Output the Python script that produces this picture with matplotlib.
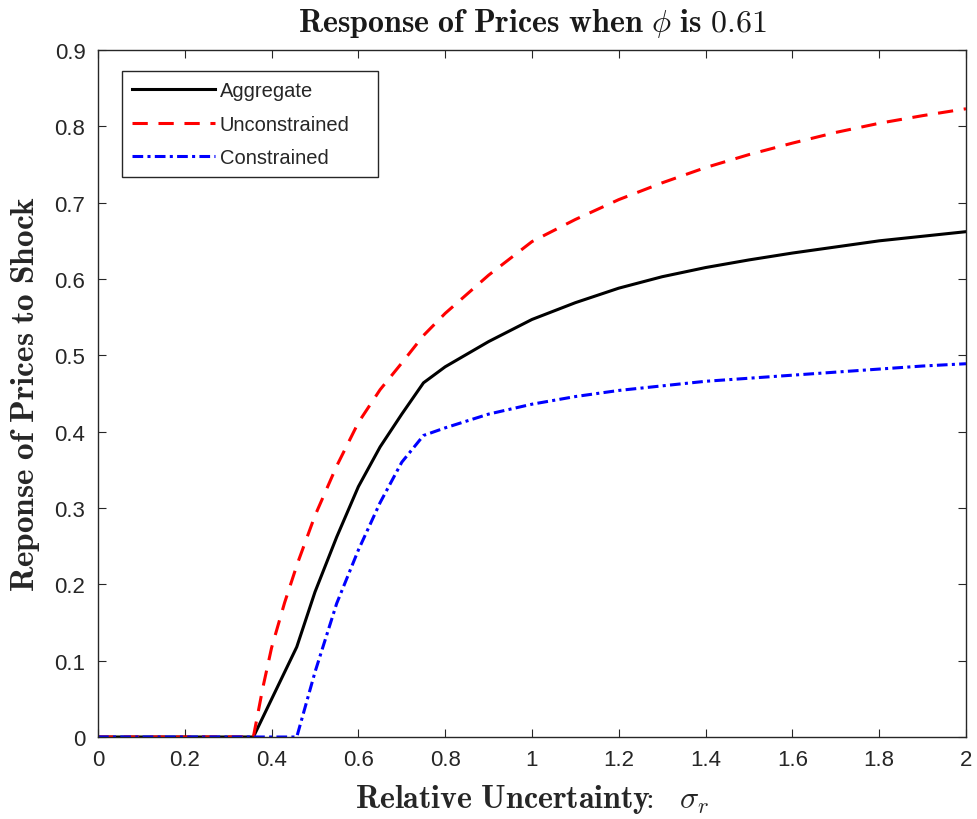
import numpy as np
import matplotlib
matplotlib.use('Agg')
import matplotlib.pyplot as plt

# Relative uncertainty (x) and price responses
x_agg = [0, 0.358, 0.458, 0.50, 0.55, 0.60, 0.65, 0.70, 0.75, 0.80, 0.90, 1.0,
         1.1, 1.2, 1.3, 1.4, 1.5, 1.6, 1.7, 1.8, 1.9, 2.0]
y_agg = [0, 0, 0.118, 0.19, 0.262, 0.328, 0.38, 0.423, 0.464, 0.485, 0.518, 0.547,
         0.569, 0.588, 0.603, 0.615, 0.625, 0.634, 0.642, 0.650, 0.656, 0.662]

x_unc = [0, 0.358, 0.38, 0.40, 0.43, 0.46, 0.50, 0.55, 0.60, 0.65, 0.70, 0.75, 0.80,
         0.90, 1.0, 1.1, 1.2, 1.3, 1.4, 1.5, 1.6, 1.7, 1.8, 1.9, 2.0]
y_unc = [0, 0, 0.065, 0.117, 0.176, 0.228, 0.29, 0.355, 0.412, 0.455, 0.49, 0.526, 0.555,
         0.605, 0.649, 0.678, 0.704, 0.726, 0.746, 0.763, 0.778, 0.792, 0.804, 0.814, 0.823]

x_con = [0, 0.458, 0.50, 0.55, 0.60, 0.65, 0.70, 0.75, 0.80, 0.90, 1.0,
         1.1, 1.2, 1.3, 1.4, 1.5, 1.6, 1.7, 1.8, 1.9, 2.0]
y_con = [0, 0, 0.085, 0.175, 0.245, 0.307, 0.36, 0.395, 0.405, 0.423, 0.436,
         0.446, 0.454, 0.460, 0.466, 0.470, 0.474, 0.478, 0.482, 0.486, 0.489]

xticks = np.arange(0, 2.01, 0.2)
yticks = np.arange(0, 0.91, 0.1)
xticklabels = ['0', '0.2', '0.4', '0.6', '0.8', '1', '1.2', '1.4', '1.6', '1.8', '2']
yticklabels = ['0', '0.1', '0.2', '0.3', '0.4', '0.5', '0.6', '0.7', '0.8', '0.9']

plt.rcParams['font.family'] = 'Liberation Sans'
plt.rcParams['mathtext.fontset'] = 'cm'

fig = plt.figure(figsize=(9.78, 8.2), dpi=100)
fig.set_facecolor('w')
ax = fig.add_axes([0.1002, 0.1, 0.8875, 0.8378])

ax.plot(x_agg, y_agg, '-', color='k', lw=2.2, label='Aggregate')
ax.plot(x_unc, y_unc, '--', color='r', lw=2.2, dashes=(5, 3.5), label='Unconstrained')
ax.plot(x_con, y_con, '-.', color='b', lw=2.2, dashes=(3.5, 1.4, 1.0, 1.4), label='Constrained')

ax.set_xlim(0, 2)
ax.set_ylim(0, 0.9)
ax.set_xticks(xticks)
ax.set_yticks(yticks)
ax.set_xticklabels(xticklabels)
ax.set_yticklabels(yticklabels)
ax.tick_params(direction='in', top=True, right=True, length=6, width=0.8,
               colors='0.15', labelsize=16)
ax.tick_params(axis='x', pad=9)
ax.tick_params(axis='y', pad=9)
for sp in ax.spines.values():
    sp.set_color('0.15')
    sp.set_linewidth(1.0)

ax.set_title(r'$\mathbf{Response\ of\ Prices\ when}\ \phi\ \mathbf{is\ 0.61}$',
             fontsize=23, color='0.1', y=1.016, va='baseline')
ax.set_xlabel(r'$\mathbf{Relative\ Uncertainty}\!\!\mathbf{:}\ \ \sigma_r$', fontsize=23, color='0.15', va='center')
ax.set_ylabel(r'$\mathbf{Reponse\ of\ Prices\ to\ Shock}$', fontsize=24, color='0.15', va='center')
ax.xaxis.set_label_coords(0.5, -0.09)
ax.yaxis.set_label_coords(-0.084, 0.5)

leg = ax.legend(loc='upper left', bbox_to_anchor=(0.0276, 0.969, 0.295, 0.0),
                mode='expand', fontsize=14.5,
                fancybox=False, edgecolor='0.15', framealpha=1, handlelength=4.1,
                handletextpad=0.25, borderpad=0.5, labelspacing=0.72, borderaxespad=0)
leg.get_frame().set_linewidth(1.0)
for t in leg.get_texts():
    t.set_color('0.15')

fig.savefig('out.png', dpi=100)
